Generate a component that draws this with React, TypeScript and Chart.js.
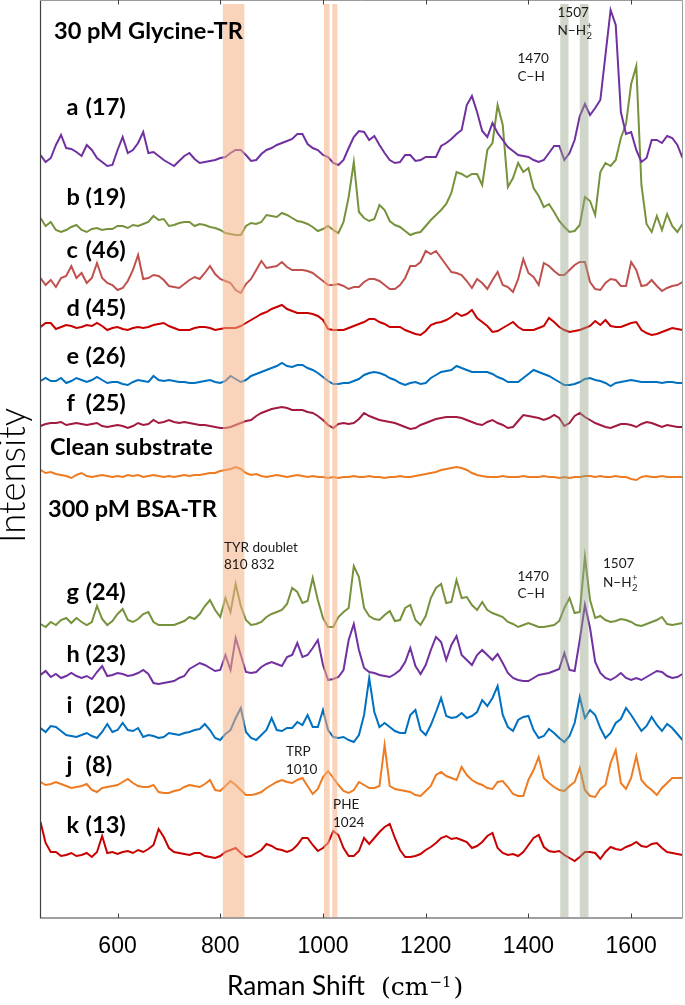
import React, { useEffect, useRef } from 'react';
import { Chart, registerables } from 'chart.js';

Chart.register(...registerables);

// Raman shift grid (cm^-1)
const shift = [
  450, 460, 470, 480, 490, 500, 510, 520, 530, 540,
  550, 560, 570, 580, 590, 600, 610, 620, 630, 640,
  650, 660, 670, 680, 690, 700, 710, 720, 730, 740,
  750, 760, 770, 780, 790, 800, 810, 820, 830, 840,
  850, 860, 870, 880, 890, 900, 910, 920, 930, 940,
  950, 960, 970, 980, 990, 1000, 1010, 1020, 1030, 1040,
  1050, 1060, 1070, 1080, 1090, 1100, 1110, 1120, 1130, 1140,
  1150, 1160, 1170, 1180, 1190, 1200, 1210, 1220, 1230, 1240,
  1250, 1260, 1270, 1280, 1290, 1300, 1310, 1320, 1330, 1340,
  1350, 1360, 1370, 1380, 1390, 1400, 1410, 1420, 1430, 1440,
  1450, 1460, 1470, 1480, 1490, 1500, 1510, 1520, 1530, 1540,
  1550, 1560, 1570, 1580, 1590, 1600, 1610, 1620, 1630, 1640,
  1650, 1660, 1670, 1680, 1690, 1700,
];

const tickValues = [600, 800, 1000, 1200, 1400, 1600];
const tickLabels = ['600', '800', '1000', '1200', '1400', '1600'];

// 30 pM Glycine-TR spectra (intensity above each trace's own baseline)
const specA = [
  13, 6, 10, 23, 33, 20, 19, 16, 12, 23,
  18, 10, 6, 2, 3, 18, 31, 15, 18, 25,
  36, 15, 16, 12, 8, 5, 2, 7, 12, 15,
  9, 5, 6, 7, 8, 10, 11, 15, 18, 18,
  13, 7, 8, 14, 18, 20, 23, 25, 27, 29,
  34, 34, 24, 20, 18, 13, 11, 5, 3, 8,
  20, 31, 37, 36, 28, 32, 23, 15, 8, 5,
  6, 13, 13, 7, 8, 11, 11, 11, 22, 25,
  29, 34, 38, 63, 72, 56, 37, 31, 45, 35,
  28, 21, 17, 13, 12, 11, 8, 6, 8, 15,
  22, 22, 8, 15, 28, 52, 64, 53, 60, 68,
  113, 158, 143, 56, 34, 36, 18, 6, 10, 28,
  28, 25, 32, 30, 23, 10,
];
const specB = [
  17, 9, 13, 5, 3, 5, 8, 10, 5, 3,
  6, 7, 5, 6, 6, 9, 9, 7, 10, 9,
  11, 13, 19, 15, 16, 9, 10, 12, 13, 13,
  9, 11, 10, 8, 7, 5, 2, 1, 0, 0,
  9, 12, 11, 13, 20, 19, 18, 22, 20, 17,
  14, 13, 11, 8, 4, 6, 9, 5, 2, 13,
  38, 73, 23, 17, 14, 16, 30, 25, 14, 10,
  8, 4, 0, 2, 3, 9, 15, 20, 25, 31,
  42, 63, 61, 58, 61, 61, 50, 85, 92, 130,
  110, 48, 57, 72, 63, 67, 47, 39, 28, 31,
  23, 14, 8, 3, 4, 10, 38, 34, 20, 63,
  72, 69, 75, 97, 111, 151, 169, 50, 11, 3,
  19, 5, 21, 9, 3, 11,
];
const specC = [
  16, 9, 14, 7, 16, 18, 28, 16, 21, 11,
  16, 31, 16, 11, 9, 4, 6, 13, 24, 39,
  15, 16, 19, 18, 14, 8, 7, 6, 10, 14,
  17, 15, 21, 28, 20, 15, 13, 11, 4, 1,
  10, 15, 24, 33, 26, 27, 28, 32, 27, 24,
  24, 24, 23, 21, 17, 13, 9, 9, 10, 8,
  5, 7, 7, 12, 15, 15, 13, 9, 5, 5,
  9, 16, 28, 28, 32, 43, 40, 43, 36, 29,
  22, 21, 19, 13, 6, 15, 11, 5, 14, 22,
  9, 7, 2, 15, 35, 21, 17, 9, 31, 28,
  23, 19, 19, 24, 29, 32, 32, 12, 5, 4,
  11, 15, 14, 8, 8, 32, 24, 8, 9, 14,
  8, 3, 6, 8, 9, 12,
];
const specD = [
  9, 13, 13, 7, 9, 11, 10, 8, 9, 11,
  10, 13, 10, 6, 8, 9, 7, 6, 8, 9,
  8, 9, 11, 12, 13, 10, 8, 6, 6, 6,
  8, 9, 9, 8, 6, 7, 8, 8, 8, 10,
  13, 16, 19, 22, 24, 27, 29, 31, 27, 25,
  23, 23, 23, 22, 20, 16, 7, 6, 6, 6,
  8, 10, 12, 14, 17, 17, 14, 12, 9, 9,
  9, 6, 4, 2, 1, 5, 11, 13, 14, 16,
  19, 23, 20, 22, 26, 18, 14, 10, 4, 5,
  8, 11, 14, 9, 6, 6, 6, 8, 10, 18,
  14, 9, 6, 4, 5, 6, 8, 10, 15, 11,
  16, 10, 9, 9, 11, 13, 14, 6, 3, 1,
  2, 4, 6, 8, 7, 6,
];
const specE = [
  7, 10, 7, 7, 10, 5, 7, 10, 8, 6,
  8, 11, 8, 5, 6, 6, 4, 3, 6, 8,
  7, 6, 12, 8, 7, 8, 7, 6, 6, 5,
  5, 6, 7, 8, 6, 5, 7, 12, 9, 6,
  8, 12, 14, 16, 18, 20, 22, 25, 22, 21,
  23, 23, 20, 18, 15, 11, 7, 4, 4, 5,
  5, 7, 9, 13, 15, 16, 15, 13, 10, 8,
  5, 3, 5, 6, 4, 5, 10, 13, 16, 17,
  18, 22, 20, 18, 16, 16, 16, 16, 14, 11,
  9, 6, 6, 6, 10, 14, 18, 16, 14, 12,
  9, 6, 3, 3, 4, 6, 9, 10, 8, 7,
  5, 2, 5, 6, 7, 8, 7, 6, 6, 6,
  6, 5, 6, 6, 5, 5,
];
const specF = [
  5, 7, 8, 8, 9, 6, 7, 8, 7, 6,
  7, 8, 5, 4, 5, 6, 5, 3, 5, 8,
  6, 7, 11, 8, 9, 11, 9, 8, 9, 8,
  7, 6, 6, 5, 4, 3, 3, 4, 6, 8,
  10, 11, 15, 18, 20, 22, 23, 24, 23, 21,
  21, 21, 19, 18, 15, 11, 6, 3, 7, 8,
  7, 8, 12, 18, 15, 13, 11, 10, 9, 8,
  6, 4, 2, 3, 6, 8, 10, 12, 13, 14,
  14, 14, 13, 11, 9, 7, 6, 9, 11, 8,
  6, 3, 4, 10, 16, 15, 14, 13, 11, 13,
  16, 13, 5, 8, 15, 18, 14, 11, 8, 6,
  4, 3, 5, 7, 7, 6, 4, 7, 9, 8,
  6, 4, 6, 5, 4, 4,
];
const specClean = [
  11, 8, 9, 7, 6, 5, 3, 6, 8, 5,
  4, 5, 6, 5, 4, 5, 4, 6, 5, 6,
  4, 5, 6, 5, 4, 5, 4, 5, 6, 5,
  6, 6, 7, 8, 8, 10, 11, 12, 14, 12,
  8, 6, 7, 5, 4, 5, 6, 5, 4, 5,
  6, 5, 4, 5, 4, 4, 3, 4, 3, 4,
  4, 5, 4, 4, 5, 4, 4, 3, 4, 4,
  5, 4, 4, 5, 6, 7, 8, 9, 11, 12,
  13, 14, 13, 11, 8, 6, 5, 4, 4, 4,
  5, 4, 4, 4, 5, 4, 4, 4, 5, 4,
  4, 3, 4, 3, 4, 4, 5, 5, 4, 5,
  4, 4, 5, 4, 4, 2, 1, 4, 5, 4,
  4, 5, 4, 4, 4, 4,
];
// 300 pM BSA-TR spectra
const specG = [
  5, 2, 7, 4, 9, 11, 6, 11, 7, 4,
  7, 23, 10, 4, 8, 15, 20, 9, 7, 10,
  15, 17, 7, 4, 4, 4, 4, 6, 8, 12,
  10, 15, 23, 29, 19, 12, 31, 17, 45, 23,
  9, 4, 5, 7, 12, 15, 17, 19, 25, 41,
  37, 26, 28, 51, 29, 11, 2, 2, 12, 17,
  21, 63, 52, 21, 13, 10, 9, 14, 18, 8,
  9, 21, 24, 9, 4, 13, 31, 41, 45, 26,
  27, 49, 31, 32, 24, 19, 27, 19, 16, 14,
  12, 7, 5, 2, 4, 6, 4, 2, 2, 3,
  4, 8, 21, 31, 16, 17, 72, 29, 11, 13,
  9, 7, 8, 10, 9, 7, 4, 3, 5, 7,
  9, 12, 5, 4, 5, 6,
];
const specH = [
  11, 15, 9, 12, 8, 10, 13, 10, 8, 10,
  7, 14, 20, 10, 11, 13, 12, 10, 11, 13,
  16, 12, 3, 2, 3, 4, 5, 8, 10, 17,
  20, 23, 21, 18, 15, 16, 31, 16, 48, 31,
  14, 13, 14, 19, 22, 24, 22, 20, 29, 31,
  43, 29, 31, 38, 46, 21, 6, 7, 9, 16,
  46, 62, 36, 18, 14, 13, 11, 10, 9, 12,
  16, 24, 38, 20, 12, 21, 36, 49, 44, 26,
  41, 50, 31, 26, 21, 31, 36, 31, 26, 32,
  23, 13, 8, 6, 5, 5, 8, 11, 12, 13,
  15, 17, 33, 16, 15, 46, 81, 58, 24, 13,
  8, 6, 9, 13, 8, 6, 8, 6, 9, 12,
  15, 14, 10, 8, 9, 12,
];
const specI = [
  16, 12, 18, 17, 13, 9, 8, 7, 9, 11,
  8, 6, 12, 20, 12, 14, 21, 14, 13, 16,
  7, 9, 8, 6, 7, 11, 10, 9, 11, 12,
  14, 15, 20, 14, 6, 4, 10, 14, 26, 36,
  12, 6, 4, 9, 14, 26, 14, 13, 16, 16,
  22, 19, 29, 17, 17, 34, 14, 7, 6, 7,
  4, 2, 9, 29, 66, 32, 17, 21, 17, 13,
  11, 11, 29, 34, 14, 9, 19, 32, 46, 28,
  26, 27, 31, 26, 28, 32, 44, 38, 46, 58,
  29, 17, 13, 24, 27, 28, 14, 6, 8, 15,
  11, 6, 2, 8, 21, 47, 26, 34, 29, 16,
  6, 11, 21, 25, 36, 29, 21, 13, 18, 27,
  19, 13, 20, 16, 10, 4,
];
const specJ = [
  17, 14, 15, 17, 15, 13, 11, 12, 13, 15,
  9, 7, 11, 12, 13, 14, 17, 20, 16, 13,
  12, 12, 14, 7, 6, 6, 8, 9, 12, 14,
  13, 12, 15, 19, 9, 8, 13, 18, 14, 9,
  4, 4, 5, 7, 11, 14, 17, 19, 17, 16,
  19, 21, 13, 5, 10, 22, 28, 21, 14, 8,
  6, 9, 17, 14, 11, 11, 13, 54, 13, 10,
  9, 8, 7, 4, 3, 8, 13, 24, 27, 23,
  21, 19, 32, 24, 19, 16, 14, 11, 10, 17,
  18, 12, 5, 3, 3, 19, 29, 42, 21, 16,
  12, 9, 8, 13, 17, 31, 9, 3, 2, 10,
  14, 36, 49, 16, 10, 21, 43, 19, 13, 9,
  4, 11, 16, 21, 21, 21,
];
const specK = [
  41, 20, 11, 11, 7, 8, 10, 7, 8, 10,
  6, 11, 27, 10, 11, 9, 11, 12, 10, 13,
  11, 14, 18, 34, 26, 15, 11, 10, 9, 8,
  10, 10, 7, 6, 5, 7, 11, 13, 15, 10,
  6, 7, 10, 13, 19, 17, 14, 13, 11, 13,
  18, 25, 25, 18, 12, 15, 20, 32, 28, 15,
  7, 7, 12, 25, 19, 25, 31, 36, 39, 25,
  13, 6, 6, 7, 9, 13, 16, 20, 25, 27,
  24, 25, 23, 21, 15, 17, 21, 27, 30, 15,
  10, 8, 9, 7, 11, 18, 25, 28, 16, 12,
  11, 12, 8, 5, 2, 6, 11, 11, 10, 4,
  11, 16, 14, 13, 16, 18, 21, 17, 16, 19,
  20, 15, 11, 10, 9, 8,
];

const spectra = [specA, specB, specC, specD, specE, specF, specClean, specG, specH, specI, specJ, specK];
// vertical stacking offset of each trace
const offsets = [750, 683, 624, 582, 530, 487, 437, 289, 232, 174, 119, 55];
const traceNames = ['a', 'b', 'c', 'd', 'e', 'f', 'Clean substrate', 'g', 'h', 'i', 'j', 'k'];
const colors = ['#7030a0', '#76923c', '#c0504d', '#c80000', '#0070c0', '#a21a3f', '#ee7b21',
  '#76923c', '#7030a0', '#0070c0', '#ee7b21', '#c80000'];

// highlighted bands (cm^-1)
const orangeBands = [[805, 847], [1002, 1013], [1018, 1028]];
const grayBands = [[1462, 1478], [1500, 1517]];

// trace labels
const letters = ['a', 'b', 'c', 'd', 'e', 'f', 'g', 'h', 'i', 'j', 'k'];
const counts = ['(17)', '(19)', '(46)', '(45)', '(26)', '(25)', '(24)', '(23)', '(20)', '(8)', '(13)'];
const letterBaselines = [115, 205, 258, 316, 364, 410.5, 600, 661.5, 713, 773, 833];

const headings: [string, number, number][] = [
  ['30 pM Glycine-TR', 54, 39],
  ['Clean substrate', 50, 455],
  ['300 pM BSA-TR', 48, 517],
];
const notes: [string, number, number][] = [
  ['TYR doublet', 224, 551.5],
  ['810 832', 224, 569],
  ['TRP', 286, 756],
  ['1010', 286, 774],
  ['PHE', 333, 809],
  ['1024', 333, 826.5],
  ['1470', 517.5, 63],
  ['C\u2212H', 517.5, 81],
  ['1507', 557.5, 17],
  ['1470', 517.5, 580.5],
  ['C\u2212H', 517.5, 598],
  ['1507', 603, 568],
];
const nh2Labels: [number, number][] = [[557.5, 35], [603, 586.5]];

function fitSize(ctx: CanvasRenderingContext2D, text: string, weight: string, family: string, target: number) {
  ctx.font = `${weight} 100px ${family}`;
  const w = ctx.measureText(text).width;
  return (100 * target) / w;
}

const overlayPlugin = {
  id: 'overlay',
  afterDatasetsDraw(chart: any) {
    const { ctx, chartArea: ca, scales } = chart;
    const x = scales.x;
    ctx.save();

    // bands
    const bandTop = ca.top + 3;
    const bandBottom = ca.bottom - 1;
    ctx.fillStyle = 'rgba(244,177,131,0.55)';
    for (const [a, b] of orangeBands) {
      const x1 = x.getPixelForValue(a);
      const x2 = x.getPixelForValue(b);
      ctx.fillRect(x1, bandTop, x2 - x1, bandBottom - bandTop);
    }
    ctx.fillStyle = 'rgba(150,165,135,0.45)';
    for (const [a, b] of grayBands) {
      const x1 = x.getPixelForValue(a);
      const x2 = x.getPixelForValue(b);
      ctx.fillRect(x1, bandTop, x2 - x1, bandBottom - bandTop);
    }

    // frame
    ctx.lineWidth = 1.2;
    ctx.strokeStyle = '#404040';
    ctx.beginPath();
    ctx.moveTo(ca.left, 0.5);
    ctx.lineTo(ca.left, ca.bottom);
    ctx.lineTo(ca.right, ca.bottom);
    ctx.stroke();
    ctx.lineWidth = 1;
    ctx.strokeStyle = '#9a9a9a';
    ctx.beginPath();
    ctx.moveTo(ca.right, ca.bottom);
    ctx.lineTo(ca.right, 0.5);
    ctx.lineTo(ca.left, 0.5);
    ctx.stroke();

    // inward ticks top and bottom
    ctx.strokeStyle = '#404040';
    ctx.lineWidth = 1;
    for (const v of tickValues) {
      const px = Math.round(x.getPixelForValue(v)) + 0.5;
      ctx.beginPath();
      ctx.moveTo(px, ca.bottom);
      ctx.lineTo(px, ca.bottom - 4.5);
      ctx.moveTo(px, 0);
      ctx.lineTo(px, 4.5);
      ctx.stroke();
    }

    ctx.textAlign = 'left';
    ctx.textBaseline = 'alphabetic';
    ctx.fillStyle = '#000';

    // bold headings and trace labels
    const bigSize = fitSize(ctx, '30 pM Glycine-TR', 'bold', 'Lato', 189);
    ctx.font = `bold ${bigSize}px Lato`;
    for (const [t, tx, ty] of headings) ctx.fillText(t, tx, ty);
    letters.forEach((l, i) => {
      ctx.fillText(l, 66.5, letterBaselines[i]);
      ctx.fillText(counts[i], 85.5, letterBaselines[i]);
    });

    // small notes
    const smallSize = fitSize(ctx, 'TYR doublet', 'normal', 'Lato', 74);
    ctx.fillStyle = '#1a1a1a';
    ctx.font = `${smallSize}px Lato`;
    for (const [t, tx, ty] of notes) ctx.fillText(t, tx, ty);
    for (const [tx, ty] of nh2Labels) {
      ctx.font = `${smallSize}px Lato`;
      const base = 'N\u2212H';
      ctx.fillText(base, tx, ty);
      const w = ctx.measureText(base).width;
      ctx.font = `${smallSize * 0.7}px Lato`;
      ctx.fillText('2', tx + w + 0.5, ty + 4);
      ctx.fillText('+', tx + w + 0.5, ty - 6);
    }

    // x axis title
    ctx.fillStyle = '#000';
    const titleSize = fitSize(ctx, 'Raman Shift', 'normal', 'Lato', 138);
    ctx.font = `${titleSize}px Lato`;
    ctx.fillText('Raman Shift', 227, 995);
    ctx.font = '25px "DejaVu Serif"';
    let cx = 381;
    ctx.fillText('(cm', cx, 995);
    cx += ctx.measureText('(cm').width + 1;
    ctx.font = '15px "DejaVu Serif"';
    ctx.fillText('\u22121', cx, 987);
    cx += ctx.measureText('\u22121').width + 2;
    ctx.font = '25px "DejaVu Serif"';
    ctx.fillText(')', cx, 995);

    // y axis title
    const ySize = fitSize(ctx, 'Intensity', '300', 'Lato', 135);
    ctx.save();
    ctx.translate(24.5, 543);
    ctx.rotate(-Math.PI / 2);
    ctx.font = `300 ${ySize}px Lato`;
    ctx.fillText('Intensity', 0, 0);
    ctx.restore();

    ctx.restore();
  },
};

export default function App() {
  const ref = useRef<HTMLCanvasElement>(null);

  useEffect(() => {
    const canvas = ref.current;
    if (!canvas) return;
    const datasets = spectra.map((vals, i) => ({
      label: traceNames[i],
      data: shift.map((s, j) => ({ x: s, y: offsets[i] + vals[j] })),
      borderColor: colors[i],
      backgroundColor: colors[i],
      borderWidth: 2,
      pointRadius: 0,
      tension: 0,
      fill: false,
    }));
    const chart = new Chart(canvas, {
      type: 'line',
      data: { datasets },
      options: {
        animation: false,
        responsive: false,
        devicePixelRatio: 1,
        layout: { padding: { left: 40.5, right: 2.5, top: 1, bottom: 0 } },
        plugins: { legend: { display: false }, tooltip: { enabled: false } },
        events: [],
        scales: {
          x: {
            type: 'linear',
            min: 450,
            max: 1700,
            grid: { display: false, drawTicks: false },
            border: { display: false },
            ticks: {
              font: { family: '"Liberation Sans"', size: 23 },
              color: '#000',
              padding: 15,
              maxRotation: 0,
              autoSkip: false,
              callback: (value: any) => {
                const idx = tickValues.indexOf(Number(value));
                return idx >= 0 ? tickLabels[idx] : '';
              },
            },
            afterBuildTicks: (scale: any) => {
              scale.ticks = tickValues.map((v) => ({ value: v }));
            },
            afterFit: (scale: any) => {
              scale.height = 87;
            },
          },
          y: { type: 'linear', min: 0, max: 917, display: false },
        },
      },
      plugins: [overlayPlugin],
    } as any);
    return () => chart.destroy();
  }, []);

  return (
    <div style={{ position: 'fixed', left: 0, top: 0, width: 685, height: 1005, background: '#fff' }}>
      <canvas ref={ref} width={685} height={1005} style={{ display: 'block', width: 685, height: 1005 }} />
    </div>
  );
}
